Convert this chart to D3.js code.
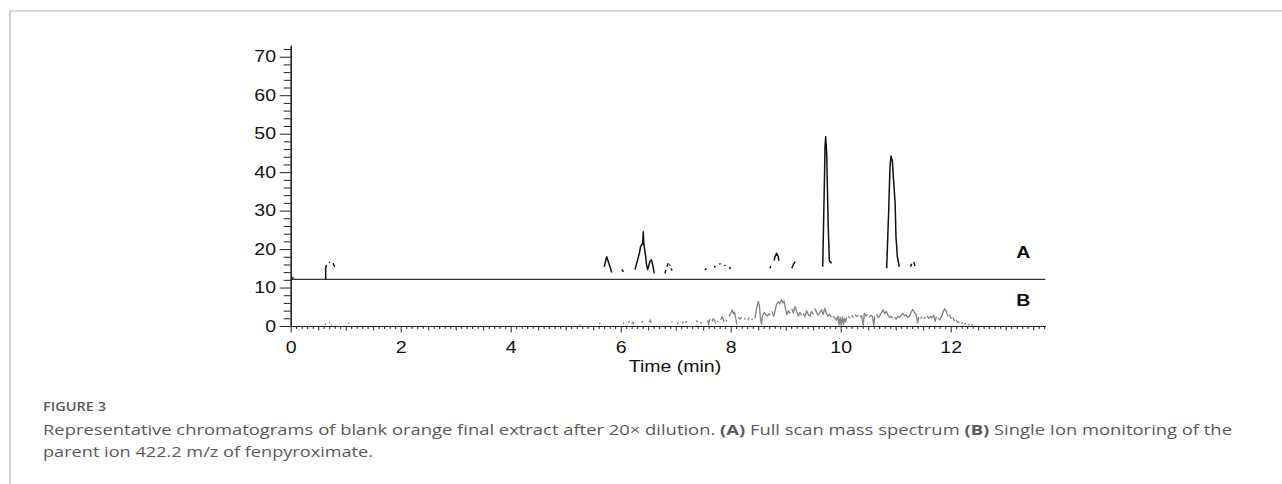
<!DOCTYPE html>
<html>
<head>
<meta charset="utf-8">
<script src="https://cdn.jsdelivr.net/npm/d3@7"></script>
<style>
  html, body { margin: 0; padding: 0; background: #fff; }
  svg { display: block; }
</style>
</head>
<body>
<svg id="chart" width="1282" height="484"></svg>
<script>
// ---------------- DATA ----------------
const xTickLabels = [0, 2, 4, 6, 8, 10, 12];
const yTickLabels = [0, 10, 20, 30, 40, 50, 60, 70];
const baselineA = 12.1;           // offset of trace A
const seriesLabels = ["A", "B"];

// Trace A (full scan), [time, value]; null = gap
const traceA = [
  [0.02,12.2],[0.05,12.7], null,
  [0.636,12.1],[0.636,15.0],[0.65,15.9], null,
  [0.70,16.4],[0.715,16.6], null,
  [0.77,16.3],[0.80,15.4], null,
  [5.70,15.4],[5.715,16.3],[5.745,18.0],[5.775,16.7],[5.805,15.4],[5.836,13.9], null,
  [6.02,14.7],[6.05,14.1], null,
  [6.26,14.7],[6.34,18.9],[6.36,20.6],[6.40,21.5],[6.41,24.5],[6.42,21.5],[6.455,18.0],[6.47,15.9],[6.49,14.7],
  [6.53,16.7],[6.56,17.2],[6.59,15.4],[6.61,13.7], null,
  [6.805,13.7],[6.82,14.6], null,
  [6.84,15.4],[6.865,16.3], null,
  [6.89,16.0],[6.90,15.7], null,
  [6.92,15.0],[6.93,14.4], null,
  [7.53,14.6],[7.56,15.0], null,
  [7.70,15.2],[7.72,15.6], null,
  [7.80,16.3],[7.81,16.0], null,
  [7.89,15.9],[7.90,15.6], null,
  [7.98,15.4],[7.99,14.8], null,
  [8.715,15.0],[8.73,15.6], null,
  [8.79,17.0],[8.805,18.0],[8.835,18.9],[8.865,18.0],[8.875,17.0], null,
  [9.11,15.0],[9.14,16.0],[9.17,16.7], null,
  [9.673,15.4],[9.684,23.2],[9.702,36.2],[9.715,46.6],[9.727,49.2],[9.745,44.9],[9.764,31.9],[9.775,25.0],
  [9.793,17.2],[9.80,16.8],[9.836,16.3], null,
  [10.836,15.0],[10.873,30.2],[10.896,41.4],[10.915,44.2],[10.938,43.0],[10.965,37.1],[10.99,31.9],[11.005,23.2],
  [11.03,18.0],[11.065,15.4], null,
  [11.27,15.4],[11.29,16.2], null,
  [11.33,16.6],[11.35,15.6]
];

// Trace B (single ion monitoring), [time, value]; null = gap
const traceB = [
  [0.62,0.3],[0.64,0.6], null, [0.70,0.7],[0.72,0.9], null, [0.74,0.4],[0.75,0.2], null, [1.05,0.5],[1.06,0.8], null,
  [5.25,0.2],[5.27,0.4], null, [5.61,0.5],[5.63,0.8], null, [6.04,0.6],[6.06,0.9], null,
  [6.14,0.8],[6.16,1.2], null, [6.20,0.6],[6.22,1.0],[6.24,0.5], null, [6.38,0.9],[6.40,1.3], null,
  [6.52,1.0],[6.54,1.6],[6.55,0.8], null, [6.92,0.9],[6.94,1.1], null, [7.03,0.5],[7.05,1.0], null,
  [7.12,0.7],[7.14,1.2], null, [7.18,0.9],[7.20,1.3], null, [7.37,1.4],[7.40,1.0], null,
  [7.45,0.6],[7.47,1.0], null, [7.58,1.5],[7.60,0.4],[7.62,1.8], null,
  [7.66,1.2],[7.68,1.9],[7.71,1.4],[7.73,0.6], null, [7.76,1.3],[7.78,1.0], null,
  [7.82,1.6],[7.84,2.4],[7.86,1.9],[7.88,1.0], null, [7.91,1.7],[7.93,1.2], null,
  [7.97,2.5],[8.00,3.3],[8.03,4.2],[8.05,3.2],[8.07,3.6],[8.09,2.2],[8.11,0.4], null,
  [8.14,2.2],[8.17,1.8],[8.20,2.3], null, [8.24,1.7],[8.27,2.0], null, [8.31,1.5],[8.33,2.2], null,
  [8.38,1.6],[8.40,1.9], null,
  [8.44,2.0],[8.47,4.5],[8.50,6.4],[8.52,5.5],[8.54,2.0],[8.56,0.5],[8.58,2.8],[8.61,3.5],[8.64,3.0],
  [8.67,2.6],[8.70,3.2],[8.72,2.9], null,
  [8.75,3.8],[8.78,2.5],[8.80,3.5],[8.83,5.5],[8.86,6.3],[8.89,5.8],[8.92,6.8],[8.95,6.0],[8.97,6.5],
  [9.00,4.2],[9.02,3.0],[9.05,4.0],[9.08,3.2], null,
  [9.11,4.5],[9.14,3.4],[9.17,5.0],[9.20,3.8],[9.23,2.6],[9.26,3.5],[9.29,2.7], null,
  [9.32,3.3],[9.35,2.4],[9.38,4.0],[9.41,3.0],[9.44,2.5],[9.47,3.8],[9.50,3.0], null,
  [9.53,4.6],[9.56,3.6],[9.59,2.8],[9.62,3.5],[9.65,4.2],[9.68,3.0],[9.71,4.6],[9.74,3.2],[9.77,2.6],
  [9.80,3.0],[9.83,2.3], null,
  [9.86,2.6],[9.89,2.1],[9.92,1.5],[9.95,2.5],[9.97,0.3],[9.99,2.2],[10.01,0.2],[10.03,2.4],[10.05,0.4],
  [10.07,2.0],[10.09,1.0],[10.11,2.2], null,
  [10.14,2.6],[10.17,2.0], null, [10.20,2.8],[10.23,2.2], null, [10.26,3.0],[10.29,2.5],[10.32,2.8], null,
  [10.35,2.3],[10.38,2.7],[10.41,0.2],[10.43,3.3],[10.46,2.6],[10.49,3.0], null,
  [10.52,2.2],[10.55,2.8],[10.58,2.4],[10.60,0.1],[10.62,2.5], null,
  [10.65,3.0],[10.68,2.2],[10.71,2.6],[10.74,3.5],[10.77,4.2],[10.80,3.2],[10.83,3.8],[10.86,2.8],
  [10.89,2.2],[10.92,2.5],[10.95,2.0], null,
  [10.98,2.3],[11.01,1.8],[11.04,2.6],[11.07,2.2],[11.10,2.8],[11.13,3.3],[11.16,2.6],[11.19,2.9],
  [11.22,2.2],[11.25,2.5],[11.28,3.6],[11.31,4.3],[11.34,3.5],[11.37,3.0],[11.40,0.8],[11.42,2.4], null,
  [11.45,2.0],[11.48,2.4], null, [11.51,1.8],[11.54,2.3], null, [11.57,2.6],[11.60,2.0],[11.63,2.5],
  [11.66,2.1],[11.69,2.8],[11.72,1.2],[11.74,2.5], null,
  [11.77,2.1],[11.80,1.6],[11.83,2.4],[11.86,3.6],[11.89,4.5],[11.92,3.8],[11.95,2.5], null,
  [11.98,3.0],[12.01,1.8], null, [12.04,2.2],[12.07,1.2], null, [12.10,1.6],[12.13,0.9],[12.16,1.1], null,
  [12.19,0.6],[12.22,0.9], null, [12.25,0.5],[12.28,0.7], null, [12.31,0.3],[12.34,0.5], null,
  [12.37,0.2],[12.40,0.4]
];

const xLabel = "Time (min)";
const figLabel = "FIGURE 3";
const captionLine1 = [
  {t: "Representative chromatograms of blank orange final extract after 20\u00d7 dilution. ", b: false},
  {t: "(A)", b: true},
  {t: " Full scan mass spectrum ", b: false},
  {t: "(B)", b: true},
  {t: " Single Ion monitoring of the", b: false}
];
const captionLine2 = "parent ion 422.2 m/z of fenpyroximate.";

// ---------------- DRAW ----------------
const svg = d3.select("#chart");
const SX = 1.22; // horizontal stretch of the chart font

// frame
svg.append("path").attr("d", "M10,484 L10,11 L1282,11")
  .attr("fill", "none").attr("stroke", "#b3b3b3").attr("stroke-width", 1.2);

const x = d3.scaleLinear().domain([0, 13.72]).range([290.7, 1045.3]);
const y = d3.scaleLinear().domain([0, 73]).range([326, 45.2]);

const chartFont = "'Liberation Sans', Arial, Helvetica, sans-serif";
const axisColor = "#222";

// Y axis minor
const yMinor = d3.range(0, 73, 2).filter(v => v % 10 !== 0);
svg.append("g").attr("transform", `translate(${x(0)},0)`)
  .call(d3.axisLeft(y).tickValues(yMinor).tickSize(7).tickSizeOuter(0).tickFormat(""));
// Y axis major
const gy = svg.append("g").attr("transform", `translate(${x(0)},0)`)
  .call(d3.axisLeft(y).tickValues(yTickLabels).tickSize(11).tickSizeOuter(0).tickPadding(3.7));

// X axis minor / medium
const xMinor = d3.range(0, 13.71, 0.1).map(v => Math.round(v * 10) / 10).filter(v => (Math.round(v * 10) % 5) !== 0);
const xMid = d3.range(0.5, 13.71, 1);
svg.append("g").attr("transform", `translate(0,${y(0)})`)
  .call(d3.axisBottom(x).tickValues(xMinor).tickSize(3).tickSizeOuter(0).tickFormat(""));
svg.append("g").attr("transform", `translate(0,${y(0)})`)
  .call(d3.axisBottom(x).tickValues(xMid.concat([1, 3, 5, 7, 9, 11, 13])).tickSize(4.5).tickSizeOuter(0).tickFormat(""));
const gx = svg.append("g").attr("transform", `translate(0,${y(0)})`)
  .call(d3.axisBottom(x).tickValues(xTickLabels).tickSize(6.5).tickSizeOuter(0).tickPadding(9));

svg.selectAll(".domain").attr("stroke", axisColor).attr("stroke-width", 1.2);
svg.selectAll(".tick line").attr("stroke", axisColor).attr("stroke-width", 1);
svg.selectAll(".tick text").attr("font-family", chartFont).attr("font-size", 16).attr("fill", "#111");

gy.selectAll(".tick text").each(function() {
  const t = d3.select(this);
  const xx = +t.attr("x");
  t.attr("x", xx / SX).attr("transform", `scale(${SX},1)`);
});
gx.selectAll(".tick text").attr("transform", `scale(${SX},1)`);

// separator / baseline of trace A
svg.append("line")
  .attr("x1", x(0)).attr("x2", x(13.72))
  .attr("y1", y(baselineA)).attr("y2", y(baselineA))
  .attr("stroke", "#333").attr("stroke-width", 1.3);

const line = d3.line().defined(d => d !== null).x(d => x(d[0])).y(d => y(d[1]));

svg.append("path").datum(traceB).attr("d", line)
  .attr("fill", "none").attr("stroke", "#858585").attr("stroke-width", 1.35).attr("stroke-linejoin", "round");

svg.append("path").datum(traceA).attr("d", line)
  .attr("fill", "none").attr("stroke", "#111").attr("stroke-width", 1.5).attr("stroke-linejoin", "round");

// series labels
const labelPos = [[13.32, 19.3], [13.32, 6.6]];
seriesLabels.forEach((s, i) => {
  svg.append("text")
    .attr("x", x(labelPos[i][0]) / SX).attr("y", y(labelPos[i][1]))
    .attr("transform", `scale(${SX},1)`)
    .attr("text-anchor", "middle").attr("dy", "0.36em")
    .attr("font-family", chartFont).attr("font-weight", "bold").attr("font-size", 16)
    .attr("fill", "#111").text(s);
});

// axis title
svg.append("text")
  .attr("x", 675 / SX).attr("y", 371.7)
  .attr("transform", `scale(${SX},1)`)
  .attr("text-anchor", "middle")
  .attr("font-family", chartFont).attr("font-size", 16).attr("fill", "#111")
  .text(xLabel);

// caption
const capFont = "'Open Sans', 'Noto Sans', sans-serif";
svg.append("text").attr("x", 43).attr("y", 410.7)
  .attr("font-family", capFont).attr("font-size", 12.5).attr("font-weight", 600)
  .attr("fill", "#5a5a5a").attr("textLength", 63).attr("lengthAdjust", "spacingAndGlyphs")
  .text(figLabel);

const l1 = svg.append("text").attr("x", 43).attr("y", 434.5)
  .attr("font-family", capFont).attr("font-size", 14.5).attr("fill", "#5a5a5a")
  .attr("textLength", 1189).attr("lengthAdjust", "spacingAndGlyphs");
captionLine1.forEach(p => {
  l1.append("tspan").attr("font-weight", p.b ? 700 : 400).text(p.t);
});
svg.append("text").attr("x", 43).attr("y", 456.5)
  .attr("font-family", capFont).attr("font-size", 14.5).attr("fill", "#5a5a5a")
  .attr("textLength", 330).attr("lengthAdjust", "spacingAndGlyphs")
  .text(captionLine2);
</script>
</body>
</html>
